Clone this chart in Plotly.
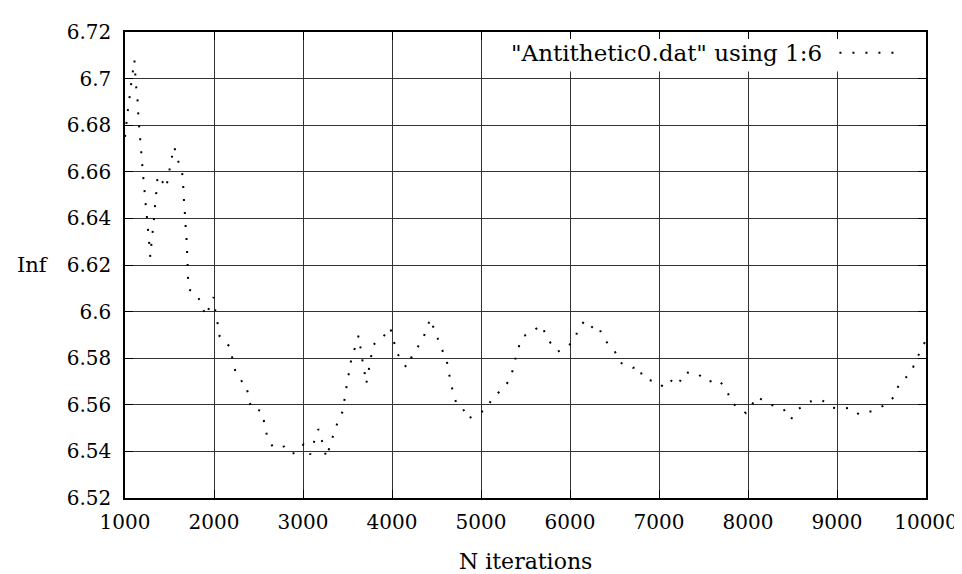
import plotly.graph_objects as go

iterations = [1000, 1011, 1026, 1045, 1063, 1082, 1106, 1116, 1127, 1142, 1149, 1160, 1172, 1190, 1201,
              1216, 1227, 1242, 1254, 1268, 1284, 1298, 1313, 1328, 1339, 1354, 1365, 1380, 1440, 1462,
              1489, 1515, 1552, 1593, 1641, 1653, 1660, 1671, 1679, 1690, 1697, 1703, 1707, 1716, 1806,
              1858, 1907, 1963, 1995, 2015, 2041, 2064, 2179, 2209, 2243, 2321, 2354, 2388, 2418, 2537,
              2567, 2597, 2664, 2787, 2872, 2939, 3006, 3081, 3125, 3174, 3215, 3252, 3267, 3304, 3390,
              3446, 3468, 3491, 3517, 3532, 3573, 3625, 3647, 3670, 3696, 3711, 3737, 3763, 3789, 3931,
              3979, 4017, 4054, 4162, 4225, 4304, 4341, 4390, 4431, 4479, 4578, 4610, 4636, 4662, 4722,
              4789, 4848, 4960, 5061, 5128, 5259, 5333, 5370, 5407, 5464, 5628, 5688, 5736, 5863, 5986,
              6049, 6098, 6172, 6262, 6318, 6377, 6500, 6564, 6705, 6770, 6822, 6911, 6986, 7057, 7150,
              7221, 7281, 7430, 7542, 7661, 7747, 7762, 7810, 7978, 8026, 8090, 8175, 8269, 8400, 8481,
              8567, 8694, 8824, 8944, 9056, 9145, 9246, 9391, 9518, 9634, 9652, 9697, 9831, 9884, 9973,
              10000]

inf_values = [6.675, 6.679, 6.6848, 6.690, 6.6958, 6.7014, 6.708, 6.7016, 6.6959, 6.6903, 6.6848, 6.679,
              6.6735, 6.665, 6.6592, 6.6537, 6.648, 6.6424, 6.6369, 6.6313, 6.6235, 6.6296, 6.6351,
              6.6407, 6.6464, 6.6519, 6.6575, 6.6585, 6.6544, 6.653, 6.6585, 6.664, 6.6708, 6.665,
              6.6603, 6.6547, 6.649, 6.6434, 6.6378, 6.632, 6.6265, 6.621, 6.6153, 6.6096, 6.6074,
              6.6032, 6.5981, 6.6033, 6.6062, 6.6004, 6.5949, 6.5892, 6.5849, 6.5795, 6.5739, 6.5696,
              6.5693, 6.5638, 6.5583, 6.5574, 6.552, 6.5464, 6.5417, 6.5421, 6.5389, 6.5399, 6.543,
              6.5387, 6.5442, 6.5496, 6.5442, 6.5389, 6.5373, 6.5428, 6.5526, 6.5572, 6.5627, 6.5684,
              6.5739, 6.5778, 6.5832, 6.5897, 6.5842, 6.5785, 6.573, 6.569, 6.5746, 6.5802, 6.5857,
              6.5904, 6.5932, 6.5878, 6.5823, 6.576, 6.5809, 6.5857, 6.5876, 6.5928, 6.597, 6.5918,
              6.5822, 6.580, 6.5745, 6.569, 6.5607, 6.5591, 6.5539, 6.5561, 6.558, 6.563, 6.5673,
              6.5715, 6.577, 6.583, 6.5891, 6.5928, 6.5941, 6.5887, 6.5828, 6.5855, 6.5877, 6.5931,
              6.5963, 6.5928, 6.5938, 6.5884, 6.5832, 6.5781, 6.5758, 6.5766, 6.5714, 6.5704, 6.5699,
              6.5673, 6.5707, 6.5688, 6.5739, 6.5735, 6.5698, 6.5709, 6.5673, 6.5664, 6.5611, 6.5564,
              6.5584, 6.5635, 6.5619, 6.5599, 6.5581, 6.5537, 6.5582, 6.5614, 6.5622, 6.5588, 6.5583,
              6.5587, 6.5559, 6.5573, 6.5595, 6.5631, 6.5638, 6.569, 6.5738, 6.5789, 6.5858, 6.588]

x_ticks = [1000, 2000, 3000, 4000, 5000, 6000, 7000, 8000, 9000, 10000]
x_ticktext = ["1000", "2000", "3000", "4000", "5000", "6000", "7000", "8000", "9000", "10000"]
y_ticks = [6.52, 6.54, 6.56, 6.58, 6.60, 6.62, 6.64, 6.66, 6.68, 6.70, 6.72]
y_ticktext = ["6.52", "6.54", "6.56", "6.58", "6.6", "6.62", "6.64", "6.66", "6.68", "6.7", "6.72"]

series_name = '"Antithetic0.dat" using 1:6'
x_title = "N iterations"
y_title = "Inf"

FONT = "DejaVu Serif"
FS = 20
FS_TEXT = 22
DOTS = "2px,11px"

fig = go.Figure()
fig.add_trace(go.Scatter(
    x=iterations, y=inf_values, mode="lines",
    line=dict(color="black", width=2, dash=DOTS, simplify=False),
    name=series_name, showlegend=False, hoverinfo="skip"))

axis_common = dict(
    showgrid=True, gridcolor="#333333", gridwidth=1,
    showline=True, linecolor="black", linewidth=1.5, mirror="allticks",
    ticks="inside", ticklen=8, tickcolor="black", tickwidth=1,
    zeroline=False,
    tickfont=dict(family=FONT, size=FS, color="black"),
)

fig.update_xaxes(range=[1000, 10000], tickvals=x_ticks, ticktext=x_ticktext,
                 ticklabelstandoff=5, **axis_common)
fig.update_yaxes(range=[6.52, 6.72], tickvals=y_ticks, ticktext=y_ticktext,
                 ticklabelstandoff=8, **axis_common)

W, H = 962, 574
L, R, T, B = 117, 40, 18, 84
pw, ph = W - L - R, H - T - B

def px(xp):
    return (xp - L) / pw

def py(yp):
    return 1 - (yp - T) / ph

shapes = [
    dict(type="rect", xref="paper", yref="paper", x0=px(494), x1=px(921), y0=py(58), y1=py(25),
         fillcolor="white", line=dict(width=0), layer="above"),
    dict(type="line", xref="paper", yref="paper", x0=px(835), x1=px(890), y0=py(39), y1=py(39),
         line=dict(color="black", width=2, dash=DOTS), layer="above"),
]

annotations = [
    dict(text=series_name, xref="paper", yref="paper", x=px(819), y=py(39),
         xanchor="right", yanchor="middle", showarrow=False,
         font=dict(family=FONT, size=23, color="black")),
    dict(text=x_title, xref="paper", yref="paper", x=0.5, y=py(554),
         xanchor="center", yanchor="middle", showarrow=False,
         font=dict(family=FONT, size=FS_TEXT, color="black")),
    dict(text=y_title, xref="paper", yref="y", x=px(25), y=6.62,
         xanchor="center", yanchor="middle", showarrow=False,
         font=dict(family=FONT, size=21, color="black")),
]

fig.update_layout(
    width=W, height=H,
    margin=dict(l=L, r=R, t=T, b=B, pad=0),
    paper_bgcolor="white", plot_bgcolor="white",
    shapes=shapes, annotations=annotations,
    showlegend=False,
    font=dict(family=FONT, size=FS, color="black"),
)

fig.write_html("out.html")
